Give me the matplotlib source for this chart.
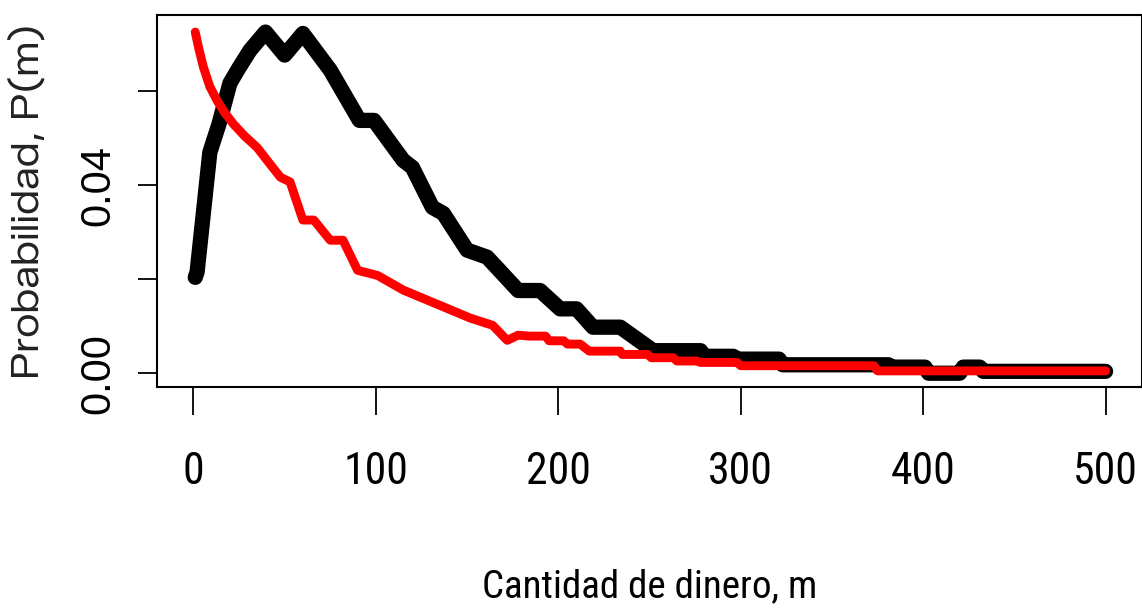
import matplotlib
matplotlib.use("Agg")
import matplotlib.pyplot as plt
from matplotlib import font_manager
from matplotlib.font_manager import FontProperties
from matplotlib.textpath import TextPath

# distribucion de dinero: curva negra y curva roja
m_negro = [1, 2, 9, 14, 20, 25, 31, 39.5, 50, 60, 75, 91, 99, 115, 120, 131, 137,
           150, 161, 178, 190, 201, 210, 219, 234, 252, 278, 280, 296, 298, 321,
           323, 381, 383, 401, 403, 420, 422, 431, 433, 500]
p_negro = [0.0204, 0.0215, 0.047, 0.053, 0.0617, 0.065, 0.0687, 0.0726, 0.0677,
           0.0723, 0.0645, 0.0538, 0.0538, 0.0453, 0.0438, 0.0353, 0.034,
           0.0262, 0.0247, 0.0176, 0.0176, 0.0137, 0.0137, 0.0098, 0.0098,
           0.0048, 0.0048, 0.0036, 0.0036, 0.0030, 0.0030, 0.0018, 0.0018,
           0.0013, 0.0013, 0.0, 0.0, 0.0013, 0.0013, 0.0004, 0.0004]

m_rojo = [1, 3, 5.5, 9, 13, 17, 22, 28, 35, 42, 47.7, 53, 60, 66, 75, 82, 90,
          101, 115, 131, 152, 164, 172, 178, 184, 193, 195, 203, 205, 212, 217,
          234, 235, 249, 251, 263, 265, 276, 278, 298, 300, 373, 375, 500]
p_rojo = [0.0726, 0.069, 0.0651, 0.061, 0.058, 0.0555, 0.053, 0.0505, 0.048,
          0.0445, 0.0417, 0.0407, 0.0326, 0.0326, 0.0283, 0.0283, 0.0219,
          0.0208, 0.0177, 0.0151, 0.0117, 0.0102, 0.007, 0.0081, 0.0079,
          0.0079, 0.0069, 0.0069, 0.0062, 0.0062, 0.0047, 0.0047, 0.0040,
          0.0040, 0.0033, 0.0033, 0.0026, 0.0026, 0.0023, 0.0023, 0.0016,
          0.0016, 0.0005, 0.0005]

x_ticks = [0, 100, 200, 300, 400, 500]
y_ticks = [0.00, 0.02, 0.04, 0.06]
y_labels = ["0.00", "", "0.04", ""]  # R se salta las etiquetas que se solapan

nombres = {f.name for f in font_manager.fontManager.ttflist}


def elegir(candidatas):
    for c in candidatas:
        if c in nombres:
            return c
    return "DejaVu Sans"


def tamano(fuente, texto, ancho_px, alto_px):
    # tamaño (pt) que reparte el error entre ancho y altura (mas peso al ancho)
    prop = FontProperties(family=fuente)
    w = TextPath((0, 0), texto, size=1, prop=prop).get_extents().width
    h = TextPath((0, 0), "H", size=1, prop=prop).get_extents().height
    px = (ancho_px / w) ** 0.7 * (alto_px / h) ** 0.3
    return px * 0.72


# el original esta comprimido en horizontal
fuente_x = elegir(["Arial Narrow", "Liberation Sans Narrow", "Roboto Condensed",
                   "Archivo Narrow", "PT Sans Narrow", "Fira Sans Condensed",
                   "Liberation Sans"])
fuente_ylab = elegir(["Zalando Sans SemiExpanded", "Zalando Sans Expanded",
                      "Liberation Sans"])
fuente_y = "Liberation Sans"

t_xtick = tamano(fuente_x, "100", 54, 38)
t_xlab = tamano(fuente_x, "Cantidad de dinero, m", 303, 34)
t_ylab = tamano(fuente_ylab, "Probabilidad, P(m)", 383, 22)

fig = plt.figure(figsize=(11.42, 6.08), dpi=100)
ax = fig.add_axes([157 / 1142, (608 - 387) / 608, (1142 - 157) / 1142, 372 / 608])

ax.plot(m_negro, p_negro, color="black", lw=11, solid_capstyle="round",
        solid_joinstyle="round")
ax.plot(m_rojo, p_rojo, color="#ff0000", lw=6.4, solid_capstyle="round",
        solid_joinstyle="round")

ax.set_xlim(-19.96, 519.96)
ax.set_ylim(-0.00293, 0.07623)

ax.set_xticks(x_ticks)
ax.set_xticklabels([str(v) for v in x_ticks], family=fuente_x, fontsize=t_xtick)
ax.set_yticks(y_ticks)
ax.set_yticklabels(y_labels, family=fuente_y, fontsize=30, rotation=90, va="center")

ax.tick_params(axis="x", length=20, width=1.3, pad=26, colors="black")
ax.tick_params(axis="y", length=13.5, width=1.3, pad=14, colors="black")
for s in ax.spines.values():
    s.set_linewidth(1.5)

ax.set_xlabel("Cantidad de dinero, m", family=fuente_x, fontsize=t_xlab, va="baseline")
ax.xaxis.set_label_coords(0.5, -0.5645)
ax.set_ylabel("Probabilidad, P(m)", family=fuente_ylab, fontsize=t_ylab, va="center",
              color="#222222")
ax.yaxis.set_label_coords(-0.131, 0.5)

fig.savefig("out.png", dpi=100)
